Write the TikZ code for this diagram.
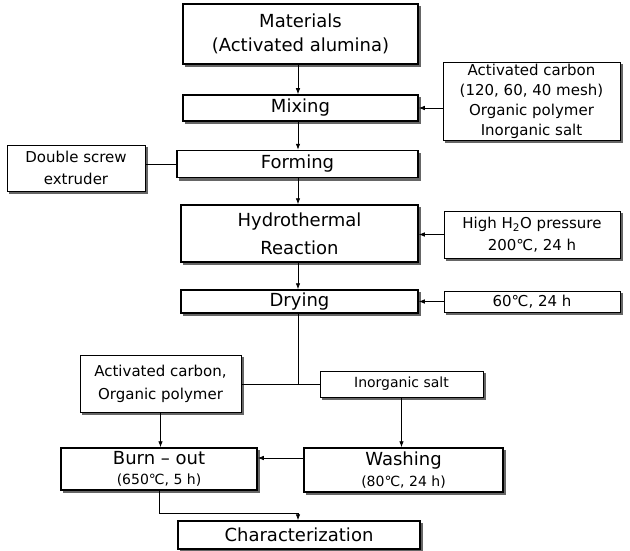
\documentclass[tikz,border=0pt]{standalone}
\usepackage{fontspec}
\setmainfont{DejaVu Sans}
\usetikzlibrary{arrows.meta}
\begin{document}
\begin{tikzpicture}[x=1pt,y=-1pt,
  shad/.style={preaction={fill=black!60, draw=black!60, line width=0.6pt, transform canvas={xshift=2.6pt, yshift=-2.4pt}}},
  mainbox/.style={shad, draw, line width=1.5pt, fill=white, inner sep=0pt, align=center,
    font=\fontsize{18}{23}\selectfont},
  sidebox/.style={shad, draw, line width=0.9pt, fill=white, inner sep=0pt, align=center,
    font=\fontsize{15}{20}\selectfont},
  arr/.style={-{Latex[length=6pt,width=4.5pt]}, line width=0.8pt},
  con/.style={line width=0.8pt}]
\useasboundingbox (0,0) rectangle (630,551);
\coordinate (cx) at (298,0);
% main column
\node[mainbox, minimum width=235pt, minimum height=60pt, font=\fontsize{18}{24}\selectfont] (mat) at (300.5,34) {Materials\\(Activated alumina)};
\node[mainbox, minimum width=235pt, minimum height=26pt] (mix) at (300.5,108) {Mixing};
\node[mainbox, minimum width=241pt, minimum height=27pt] (form) at (297.5,164) {Forming};
\node[mainbox, minimum width=237pt, minimum height=57pt, font=\fontsize{18}{28}\selectfont] (hyd) at (299.5,233.5) {Hydrothermal\\Reaction};
\node[mainbox, minimum width=237pt, minimum height=23pt] (dry) at (299.5,301.5) {Drying};
% side boxes
\node[sidebox, minimum width=177pt, minimum height=78pt] (side1) at (531.5,101) {Activated carbon\\(120, 60, 40 mesh)\\Organic polymer\\Inorganic salt};
\node[sidebox, minimum width=138pt, minimum height=46pt, font=\fontsize{15}{22}\selectfont] (dse) at (76,168) {Double screw\\extruder};
\node[sidebox, minimum width=176pt, minimum height=47pt, font=\fontsize{15}{22}\selectfont] (hp) at (532,234.5) {High H\textsubscript{2}O pressure\\200℃, 24 h};
\node[sidebox, minimum width=176pt, minimum height=21pt] (s60) at (532,301.5) {60℃, 24 h};
% lower part
\node[sidebox, minimum width=161pt, minimum height=57pt, font=\fontsize{15}{23}\selectfont] (acop) at (160.5,383.5) {Activated carbon,\\Organic polymer};
\node[sidebox, minimum width=163pt, minimum height=26pt, font=\fontsize{14}{18}\selectfont] (inorg) at (401.5,384) {Inorganic salt};
\node[mainbox, minimum width=196pt, minimum height=42pt, font=\fontsize{18}{20}\selectfont] (burn) at (159,469) {Burn – out\\{\fontsize{14}{18}\selectfont(650℃, 5 h)}};
\node[mainbox, minimum width=199pt, minimum height=44pt, font=\fontsize{18}{21}\selectfont] (wash) at (403.5,470) {Washing\\{\fontsize{14}{18}\selectfont(80℃, 24 h)}};
\node[mainbox, minimum width=242pt, minimum height=28pt] (char) at (299,535) {Characterization};
% connectors
\draw[arr] (mat.south -| cx) -- (mix.north -| cx);
\draw[arr] (mix.south -| cx) -- (form.north -| cx);
\draw[arr] (form.south -| cx) -- (hyd.north -| cx);
\draw[arr] (hyd.south -| cx) -- (dry.north -| cx);
\draw[arr] (side1.west |- mix.east) -- (mix.east);
\draw[con] (dse.east |- form.west) -- (form.west);
\draw[arr] (hp.west) -- (hp.west -| hyd.east);
\draw[arr] (s60.west) -- (s60.west -| dry.east);
\coordinate (j) at (298,384);
\draw[con] (dry.south -| cx) -- (j);
\draw[con] (acop.east |- j) -- (inorg.west |- j);
\draw[arr] (acop.south) -- (acop.south |- burn.north);
\draw[arr] (inorg.south) -- (inorg.south |- wash.north);
\coordinate (wy) at (0,458);
\draw[arr] (wash.west |- wy) -- (burn.east |- wy);
\coordinate (by) at (0,513);
\draw[arr] (burn.south) -- (burn.south |- by) -| (char.north -| cx);
\end{tikzpicture}
\end{document}
